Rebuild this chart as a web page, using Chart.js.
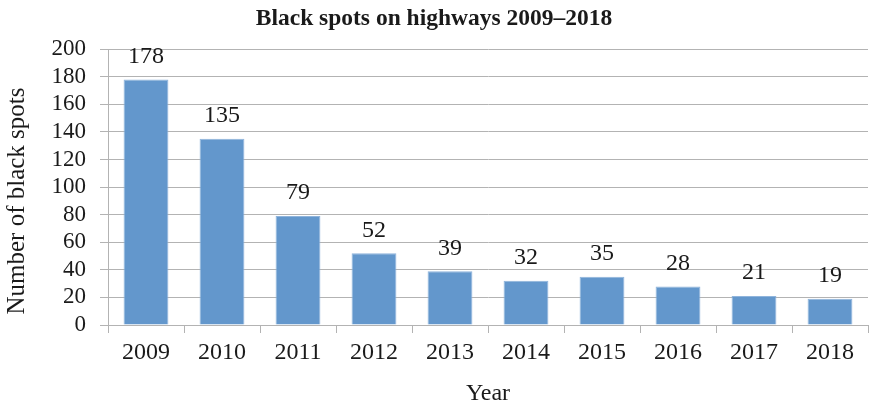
<!DOCTYPE html>
<html>
<head>
<meta charset="utf-8">
<script src="https://cdn.jsdelivr.net/npm/chart.js@4/dist/chart.umd.min.js"></script>
<style>
  html, body { margin: 0; padding: 0; background: #ffffff; }
  #wrap { width: 869px; height: 406px; }
</style>
</head>
<body>
<div id="wrap"><canvas id="c" width="869" height="406"></canvas></div>
<script>
const years = ['2009', '2010', '2011', '2012', '2013', '2014', '2015', '2016', '2017', '2018'];
const blackSpots = [178, 135, 79, 52, 39, 32, 35, 28, 21, 19];
const yMin = 0;
const yMax = 200;
const yStep = 20;
const yTitle = 'Number of black spots';

const FONT = '"Liberation Serif", "Times New Roman", serif';
const BAR = '#6397cc';
const GRID = '#b3b3b3';
const INK = '#1a1a1a';

// Writes each bar's value above it
const valueLabels = {
  id: 'valueLabels',
  afterDatasetsDraw(chart) {
    const ctx = chart.ctx;
    const meta = chart.getDatasetMeta(0);
    ctx.save();
    ctx.font = '24px ' + FONT;
    ctx.fillStyle = INK;
    ctx.textAlign = 'center';
    ctx.textBaseline = 'bottom';
    meta.data.forEach((bar, i) => {
      ctx.fillText(String(blackSpots[i]), bar.x, bar.y - 11);
    });
    ctx.restore();
  }
};

// Vertical axis title, centred on the full canvas height
const sideTitle = {
  id: 'sideTitle',
  afterDraw(chart) {
    const ctx = chart.ctx;
    ctx.save();
    ctx.translate(17, chart.height / 2 - 2);
    ctx.rotate(-Math.PI / 2);
    ctx.font = '25px ' + FONT;
    ctx.fillStyle = INK;
    ctx.textAlign = 'center';
    ctx.textBaseline = 'middle';
    ctx.fillText(yTitle, 0, 0);
    ctx.restore();
  }
};

new Chart(document.getElementById('c'), {
  type: 'bar',
  data: {
    labels: years,
    datasets: [{
      data: blackSpots,
      backgroundColor: BAR,
      borderColor: '#8fb4dc',
      borderWidth: 1,
      categoryPercentage: 1.0,
      barPercentage: 0.59
    }]
  },
  options: {
    responsive: false,
    animation: false,
    layout: { padding: { left: 0, right: 1, top: 0, bottom: 0 } },
    plugins: {
      legend: { display: false },
      tooltip: { enabled: false },
      title: {
        display: true,
        text: 'Black spots on highways 2009–2018',
        color: INK,
        font: { family: FONT, size: 23.5, weight: 'bold' },
        padding: { top: 5, bottom: 16 }
      }
    },
    scales: {
      x: {
        afterFit(scale) { scale.height = 81; },
        grid: {
          offset: true,
          drawOnChartArea: false,
          drawTicks: true,
          tickLength: 8,
          color: GRID
        },
        border: { color: GRID, width: 1 },
        ticks: {
          autoSkip: false,
          color: INK,
          font: { family: FONT, size: 24 },
          padding: 5,
          maxRotation: 0
        },
        title: {
          display: true,
          text: 'Year',
          color: INK,
          font: { family: FONT, size: 24 },
          padding: { top: 4, bottom: -2 }
        }
      },
      y: {
        min: yMin,
        max: yMax,
        afterFit(scale) { scale.width = 108; },
        grid: {
          color: GRID,
          tickLength: 8,
          drawTicks: true
        },
        border: { color: GRID, width: 1 },
        ticks: {
          autoSkip: false,
          stepSize: yStep,
          color: INK,
          font: { family: FONT, size: 23 },
          padding: 14
        },
        title: { display: false }
      }
    }
  },
  plugins: [valueLabels, sideTitle]
});
</script>
</body>
</html>
